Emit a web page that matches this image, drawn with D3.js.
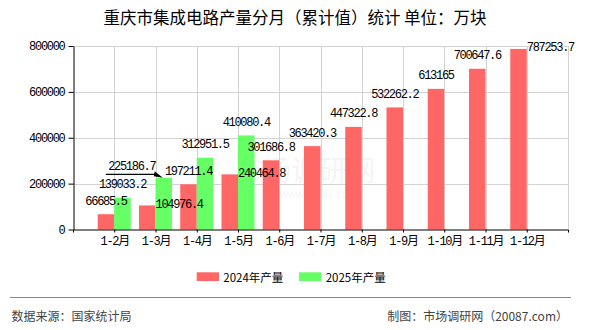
<!DOCTYPE html>
<html>
<head>
<meta charset="utf-8">
<script src="https://cdn.jsdelivr.net/npm/d3@7"></script>
<style>
  html, body { margin: 0; padding: 0; background: #fff; }
  svg { display: block; }
  .num { font-family: "Liberation Mono", "DejaVu Sans Mono", "Noto Sans CJK SC", monospace; font-size: 12px; letter-spacing: -1.3px; fill: #000; }
  .cjk { font-family: "Noto Sans CJK SC", "Noto Sans", sans-serif; }
</style>
</head>
<body>
<div id="chart"></div>
<script>
// Monthly cumulative output, 10k pieces
const months = ["1-2月", "1-3月", "1-4月", "1-5月", "1-6月", "1-7月", "1-8月", "1-9月", "1-10月", "1-11月", "1-12月"];
const values2024 = [66685.5, 104976.4, 197211.4, 240464.8, 301686.8, 363420.3, 447322.8, 532262.2, 613165, 700647.6, 787253.7];
const values2025 = [139033.2, 225186.7, 312951.5, 410080.4];
const seriesNames = ["2024年产量", "2025年产量"];
const seriesColors = ["#ff6666", "#66ff66"];
const yTicks = [0, 200000, 400000, 600000, 800000];
// where each value label sits relative to its bar
const labelPos2024 = ["top", "right", "top", "right", "top", "top", "top", "top", "top", "top", "right"];
const labelPos2025 = ["top", "left", "top", "top"];

const W = 590, H = 330;
const plot = { left: 73, right: 568, top: 46, bottom: 229.5 };

const svg = d3.select("#chart").append("svg").attr("width", W).attr("height", H);

const x = d3.scalePoint().domain(months).range([plot.left, plot.right]).padding(1);
const y = d3.scaleLinear().domain([0, 800000]).range([plot.bottom, plot.top]);
const barW = x.step() * 0.4;

// title
svg.append("text").attr("class", "cjk")
  .attr("x", W / 2).attr("y", 17)
  .attr("text-anchor", "middle").attr("dominant-baseline", "central")
  .style("font-size", "16.5px").style("fill", "#000")
  .text("重庆市集成电路产量分月（累计值）统计 单位：万块");

// faint watermark
const wm = svg.append("g").style("fill", "#000").style("opacity", 0.04);
wm.append("text").attr("class", "cjk").attr("x", 305).attr("y", 169)
  .attr("text-anchor", "middle").attr("dominant-baseline", "central")
  .style("font-size", "28px").text("市场调研网");
wm.append("text").attr("class", "cjk").attr("x", 318).attr("y", 193)
  .attr("text-anchor", "middle").attr("dominant-baseline", "central")
  .style("font-size", "10px").text("www.20087.com");

// grid
const grid = svg.append("g").attr("stroke", "#d3d3d3").attr("stroke-width", 1);
grid.selectAll("line.h").data(yTicks.filter(d => d > 0)).join("line")
  .attr("x1", plot.left).attr("x2", plot.right)
  .attr("y1", d => Math.round(y(d)) + 0.5).attr("y2", d => Math.round(y(d)) + 0.5);
grid.selectAll("line.v").data(months.map(m => x(m)).concat([plot.right])).join("line")
  .attr("x1", d => Math.round(d) + 0.5).attr("x2", d => Math.round(d) + 0.5)
  .attr("y1", plot.top).attr("y2", plot.bottom);

// bars
const bars = svg.append("g");
bars.selectAll("rect.s0").data(values2024).join("rect")
  .attr("x", (d, i) => x(months[i]) - barW)
  .attr("y", d => y(d)).attr("width", barW)
  .attr("height", d => y(0) - y(d))
  .attr("fill", seriesColors[0]);
bars.selectAll("rect.s1").data(values2025).join("rect")
  .attr("x", (d, i) => x(months[i]))
  .attr("y", d => y(d)).attr("width", barW)
  .attr("height", d => y(0) - y(d))
  .attr("fill", seriesColors[1]);

// axes
const yAxis = d3.axisLeft(y).tickValues(yTicks).tickFormat(d3.format("d"))
  .tickSize(5).tickSizeOuter(0).tickPadding(4);
const gy = svg.append("g").attr("transform", `translate(${plot.left + 0.5},0)`).call(yAxis);
gy.select(".domain").attr("stroke", "#000");
gy.selectAll(".tick line").attr("stroke", "#000");
gy.selectAll("text").attr("class", "num").attr("font-family", null).attr("font-size", null);

const xAxis = d3.axisBottom(x).tickSize(3).tickSizeOuter(3).tickPadding(4);
const gx = svg.append("g").attr("transform", `translate(0,${plot.bottom})`).call(xAxis);
gx.select(".domain").attr("stroke", "#000");
gx.selectAll(".tick line").attr("stroke", "#000");
gx.selectAll("text").attr("class", "num").attr("font-family", null).attr("font-size", null)
  .attr("y", 12.8).attr("dy", null).attr("dominant-baseline", "central");

// value labels
function drawLabels(vals, pos, side) {
  const g = svg.append("g");
  vals.forEach((v, i) => {
    const cx = x(months[i]) + (side === 0 ? -barW / 2 : barW / 2);
    const top = y(v);
    const t = g.append("text").attr("class", "num").attr("dominant-baseline", "central").text(String(v));
    if (pos[i] === "top") {
      t.attr("x", cx).attr("y", top - 12.5).attr("text-anchor", "middle");
    } else if (pos[i] === "right") {
      t.attr("x", cx + barW / 2).attr("y", top - 0.5).attr("text-anchor", "start");
    } else {
      t.attr("x", cx - 32).attr("y", top - 11).attr("text-anchor", "middle");
      g.append("line").attr("x1", cx - 58).attr("x2", cx - 7)
        .attr("y1", top - 3.5).attr("y2", top - 3.5)
        .attr("stroke", "#000").attr("stroke-width", 1.2);
      g.append("path")
        .attr("d", `M${cx - 9},${top - 6.5}L${cx - 1},${top}L${cx - 10},${top - 1.5}Z`)
        .attr("fill", "#000");
    }
  });
}
drawLabels(values2024, labelPos2024, 0);
drawLabels(values2025, labelPos2025, 1);

// legend
const legend = svg.append("g");
let lx = 196.7;
seriesNames.forEach((name, i) => {
  legend.append("rect").attr("x", lx).attr("y", 272.3).attr("width", 22.3).attr("height", 8.7)
    .attr("fill", seriesColors[i]);
  const t = legend.append("text").attr("class", "cjk")
    .attr("x", lx + 26.6).attr("y", 276.7).attr("dominant-baseline", "central")
    .style("font-size", "11.5px").style("fill", "#000").text(name);
  lx = lx + 26.6 + t.node().getComputedTextLength() + 15.7;
});

// footer
svg.append("line").attr("x1", 10).attr("x2", 571).attr("y1", 297.5).attr("y2", 297.5)
  .attr("stroke", "#888").attr("stroke-width", 1);
svg.append("text").attr("class", "cjk").attr("x", 11.5).attr("y", 315.7)
  .attr("dominant-baseline", "central").style("font-size", "12px").style("fill", "#444")
  .text("数据来源：国家统计局");
svg.append("text").attr("class", "cjk").attr("x", 568).attr("y", 315.7)
  .attr("text-anchor", "end").attr("dominant-baseline", "central")
  .style("font-size", "12px").style("fill", "#444")
  .text("制图：市场调研网（20087.com）");
</script>
</body>
</html>
